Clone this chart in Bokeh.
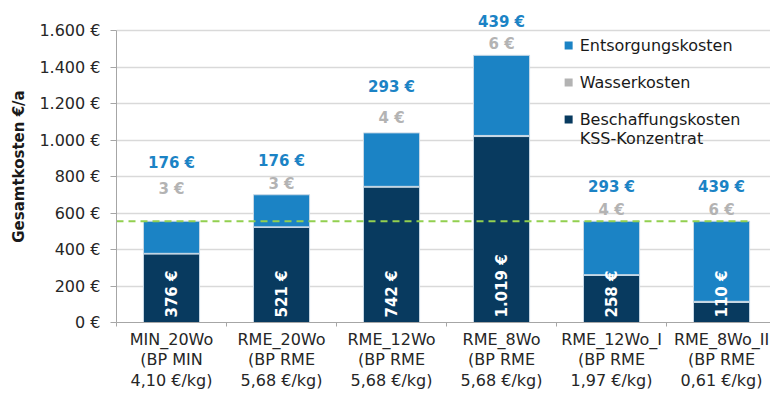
from bokeh.plotting import figure
from bokeh.models import (ColumnDataSource, Range1d, FixedTicker, LabelSet)
from bokeh.core.properties import value
from bokeh.embed import file_html
from bokeh.resources import INLINE

# ---- data ----
categories = ["MIN_20Wo\n(BP MIN\n4,10 €/kg)", "RME_20Wo\n(BP RME\n5,68 €/kg)",
              "RME_12Wo\n(BP RME\n5,68 €/kg)", "RME_8Wo\n(BP RME\n5,68 €/kg)",
              "RME_12Wo_I\n(BP RME\n1,97 €/kg)", "RME_8Wo_II\n(BP RME\n0,61 €/kg)"]
beschaffung = [376, 521, 742, 1019, 258, 110]
wasser = [3, 3, 4, 6, 4, 6]
entsorgung = [176, 176, 293, 439, 293, 439]
beschaffung_labels = ["376 €", "521 €", "742 €", "1.019 €", "258 €", "110 €"]
wasser_labels = ["3 €", "3 €", "4 €", "6 €", "4 €", "6 €"]
entsorgung_labels = ["176 €", "176 €", "293 €", "439 €", "293 €", "439 €"]
reference_total = 555
y_ticks = [0, 200, 400, 600, 800, 1000, 1200, 1400, 1600]
y_tick_labels = ["0 €", "200 €", "400 €", "600 €", "800 €", "1.000 €", "1.200 €", "1.400 €", "1.600 €"]
legend_names = ["Entsorgungskosten", "Wasserkosten", "Beschaffungskosten", "KSS-Konzentrat"]

# ---- layout / style (not data) ----
grey_lift = [32, 11, 15, 11, 11, 11]
blue_lift = [58, 34, 46, 33, 34, 34]
C_DARK = "#083A5F"
C_BLUE = "#1B83C5"
C_GREY = "#B3B3B3"
FONT = "DejaVu Sans"
Y_MAX_AXIS = 1600
Y_TOP = Y_MAX_AXIS + 20 * Y_MAX_AXIS / 292.0

n = len(categories)
xs = [i + 0.5 for i in range(n)]
totals = [b + w + e for b, w, e in zip(beschaffung, wasser, entsorgung)]

src = ColumnDataSource(dict(x=xs, beschaffung=beschaffung, wasser=wasser, entsorgung=entsorgung,
                            total=totals, base=[0] * n,
                            bl=beschaffung_labels, wl=wasser_labels, el=entsorgung_labels,
                            gl=grey_lift, bll=blue_lift))

p = figure(width=770, height=393, x_range=Range1d(0, 5.945), y_range=Range1d(0, Y_TOP),
           output_backend="svg", toolbar_location=None,
           min_border_left=116, min_border_right=0, min_border_top=10, min_border_bottom=71)
p.outline_line_color = None
p.background_fill_color = "white"

# grid
p.xgrid.visible = False
p.ygrid.ticker = FixedTicker(ticks=y_ticks)
p.ygrid.grid_line_color = "#D9D9D9"
p.ygrid.grid_line_width = 1.5

# bars
p.vbar_stack(["beschaffung", "wasser", "entsorgung"], x="x", width=0.51, source=src,
             fill_color=[C_DARK, C_GREY, C_BLUE], line_color="#C9D9E6", line_width=1)

# reference line
p.line(x=[0, xs[-1] + 0.255], y=[reference_total, reference_total], line_color="#92D050",
       line_width=2, line_dash="7 5")

# labels
p.add_layout(LabelSet(x="x", y="total", text="wl", source=src, y_offset="gl",
                      text_align="center", text_baseline="middle", text_color=C_GREY,
                      text_font=value(FONT), text_font_size="15px", text_font_style="bold"))
p.add_layout(LabelSet(x="x", y="total", text="el", source=src, y_offset="bll",
                      text_align="center", text_baseline="middle", text_color=C_BLUE,
                      text_font=value(FONT), text_font_size="15px", text_font_style="bold"))
p.add_layout(LabelSet(x="x", y="base", text="bl", source=src, y_offset=5, angle=90, angle_units="deg",
                      text_align="left", text_baseline="middle", text_color="white",
                      text_font=value(FONT), text_font_size="15px", text_font_style="bold"))

# legend (manual)
leg_x = 4.11
leg_y = [1518, 1315, 1112]
p.scatter(x=[leg_x] * 3, y=leg_y, marker="square", size=8, fill_color=[C_BLUE, C_GREY, C_DARK],
          line_color=None)
p.text(x=[leg_x + 0.1] * 4, y=leg_y + [1008], text=legend_names, text_font=value(FONT),
       text_font_size="16px", text_baseline="middle", text_align="left", text_color="#1A1A1A")

# axes
ax = p.xaxis[0]
ax.ticker = FixedTicker(ticks=xs, minor_ticks=list(range(n + 1)))
ax.major_label_overrides = {x: c for x, c in zip(xs, categories)}
ax.major_tick_line_color = None
ax.major_tick_out = 0
ax.major_tick_in = 0
ax.minor_tick_line_color = "#A6A6A6"
ax.minor_tick_out = 4
ax.minor_tick_in = 0
ax.axis_line_color = "#A6A6A6"
ax.major_label_text_font = FONT
ax.major_label_text_font_size = "16px"
ax.major_label_text_color = "#262626"
ax.major_label_text_line_height = 1.1
ax.major_label_standoff = 3

ay = p.yaxis[0]
ay.ticker = FixedTicker(ticks=y_ticks)
ay.bounds = (0, Y_MAX_AXIS)
ay.major_label_overrides = {t: l for t, l in zip(y_ticks, y_tick_labels)}
ay.minor_tick_line_color = None
ay.major_tick_line_color = "#A6A6A6"
ay.major_tick_out = 6
ay.major_tick_in = 0
ay.axis_line_color = "#A6A6A6"
ay.major_label_text_font = FONT
ay.major_label_text_font_size = "16px"
ay.major_label_text_color = "#262626"
ay.major_label_standoff = 10
ay.axis_label = "Gesamtkosten €/a"
ay.axis_label_text_font = FONT
ay.axis_label_text_font_size = "15px"
ay.axis_label_text_font_style = "bold"
ay.axis_label_text_color = "#1A1A1A"
ay.axis_label_standoff = 8

open("out.html", "w").write(file_html(p, INLINE))
